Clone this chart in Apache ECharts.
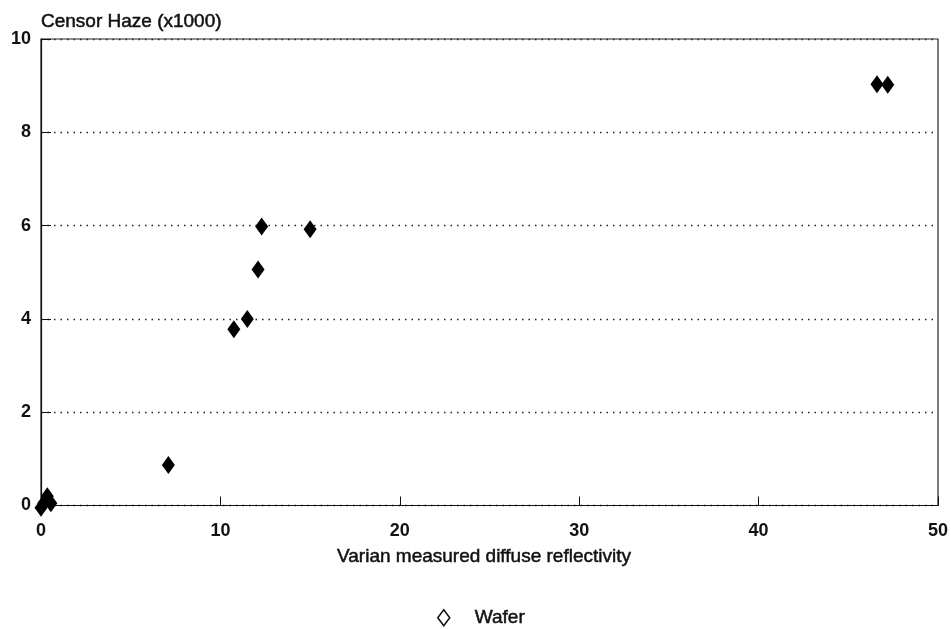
<!DOCTYPE html>
<html>
<head>
<meta charset="utf-8">
<script src="https://cdn.jsdelivr.net/npm/echarts@6/dist/echarts.min.js"></script>
<style>
html,body{margin:0;padding:0;background:#fff;}
#chart{width:951px;height:629px;}
</style>
</head>
<body>
<div id="chart"></div>
<script>
const seriesName = 'Wafer';
const xValues = [0.0, 0.15, 0.35, 0.55, 7.1, 10.75, 11.5, 12.1, 12.3, 15.0, 46.6, 47.2];
const yValues = [-0.05, 0.05, 0.2, 0.05, 0.87, 3.78, 4.0, 5.06, 5.98, 5.92, 9.03, 9.02];
const xTicks = [0, 10, 20, 30, 40, 50];
const yTicks = [0, 2, 4, 6, 8, 10];
const xTitle = 'Varian measured diffuse reflectivity';
const yTitle = 'Censor Haze (x1000)';

const points = xValues.map((x, i) => [x, yValues[i]]);
const font = 'Liberation Sans, Arial, Helvetica, sans-serif';
const heavy = { textBorderColor: '#111', textBorderWidth: 0.5 };

const chart = echarts.init(document.getElementById('chart'));
chart.setOption({
  backgroundColor: '#fff',
  animation: false,
  textStyle: { fontFamily: font },
  grid: { left: 41, right: 12, top: 39, bottom: 123.5, show: true, borderColor: '#222', borderWidth: 1.2, backgroundColor: 'transparent' },
  legend: {
    data: [seriesName],
    left: 432, top: 603,
    icon: 'diamond',
    itemWidth: 12, itemHeight: 16,
    itemStyle: { color: '#fff', borderColor: '#111', borderWidth: 1.5 },
    textStyle: Object.assign({ fontFamily: font, fontSize: 19, color: '#111', padding: [0, 0, 0, 20] }, heavy)
  },
  xAxis: {
    type: 'value', min: xTicks[0], max: xTicks[xTicks.length - 1], interval: 10,
    name: xTitle, nameLocation: 'middle', nameGap: 42,
    nameTextStyle: Object.assign({ fontFamily: font, fontSize: 19, color: '#111', padding: [0, 11, 0, 0] }, heavy),
    axisLine: { show: true, lineStyle: { color: '#111', width: 1.2 } },
    axisTick: { show: true, inside: true, length: 9, lineStyle: { color: '#111' } },
    axisLabel: { fontFamily: font, fontSize: 18, fontWeight: 'bold', color: '#111', margin: 17 },
    splitLine: { show: false }
  },
  yAxis: {
    type: 'value', min: yTicks[0], max: yTicks[yTicks.length - 1], interval: 2,
    name: yTitle, nameLocation: 'end', nameGap: 8,
    nameTextStyle: Object.assign({ fontFamily: font, fontSize: 19, color: '#111', align: 'left' }, heavy),
    axisLine: { show: true, lineStyle: { color: '#111', width: 1.2 } },
    axisTick: { show: true, inside: true, length: 10, lineStyle: { color: '#111' } },
    axisLabel: { fontFamily: font, fontSize: 18, fontWeight: 'bold', color: '#111', margin: 10 },
    splitLine: { show: true, lineStyle: { color: '#222', type: [1.5, 5], width: 1.4 } }
  },
  series: [{
    name: seriesName,
    type: 'scatter',
    clip: false,
    symbol: 'diamond',
    symbolSize: [13, 18],
    itemStyle: { color: '#000', opacity: 1 },
    data: points
  }]
});
</script>
</body>
</html>
